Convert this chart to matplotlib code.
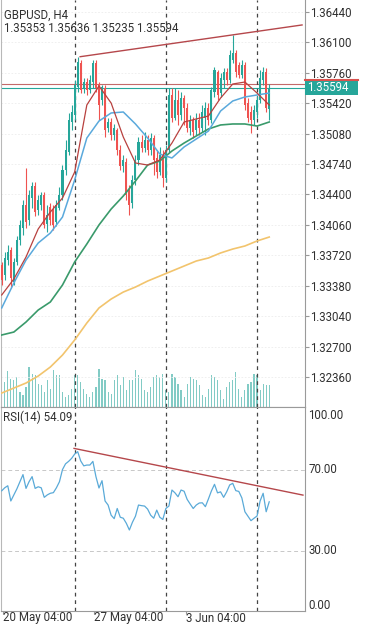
import matplotlib
matplotlib.use('Agg')
import matplotlib.pyplot as plt
import matplotlib.transforms as mtransforms
from matplotlib.patches import Rectangle
import numpy as np

plt.rcParams['font.family'] = ['Roboto', 'DejaVu Sans']

# ---------------- data ----------------
symbol_title = "GBPUSD, H4"
ohlc_title = "1.35353 1.35636 1.35235 1.35594"
rsi_title = "RSI(14) 54.09"

opens = [1.33611, 1.33499, 1.33667, 1.33779, 1.33421, 1.33645, 1.33891, 1.34025, 1.34282, 1.34114,
         1.34360, 1.34495, 1.34226, 1.34282, 1.34394, 1.34070, 1.34260, 1.34226, 1.34092, 1.34248,
         1.34394, 1.34674, 1.34875, 1.35210, 1.35288, 1.35601, 1.35870, 1.35590, 1.35657, 1.35568,
         1.35657, 1.35870, 1.35635, 1.35456, 1.35590, 1.35143, 1.35210, 1.35065, 1.35121, 1.34897,
         1.34718, 1.34763, 1.34450, 1.34305, 1.34562, 1.34785, 1.34986, 1.34919, 1.35009, 1.34897,
         1.35031, 1.34808, 1.34651, 1.34841, 1.34584, 1.34897, 1.35512, 1.35255, 1.35456, 1.35288,
         1.35478, 1.35367, 1.35143, 1.35233, 1.35121, 1.35233, 1.35143, 1.35255, 1.35367, 1.35233,
         1.35545, 1.35769, 1.35534, 1.35680, 1.35769, 1.35680, 1.35903, 1.35981, 1.35847, 1.35736,
         1.35847, 1.35422, 1.35322, 1.35233, 1.35322, 1.35456, 1.35680, 1.35769, 1.35353]
highs = [1.33645, 1.33757, 1.33835, 1.33813, 1.33690, 1.33935, 1.34114, 1.34338, 1.34696, 1.34450,
         1.34539, 1.34539, 1.34394, 1.34427, 1.34427, 1.34282, 1.34305, 1.34282, 1.34338, 1.34483,
         1.34729, 1.35009, 1.35311, 1.35400, 1.35680, 1.35937, 1.35903, 1.35702, 1.35702, 1.35736,
         1.35903, 1.35903, 1.35657, 1.35624, 1.35624, 1.35255, 1.35255, 1.35188, 1.35143, 1.34953,
         1.34841, 1.34808, 1.34506, 1.34617, 1.34841, 1.35042, 1.35065, 1.35098, 1.35065, 1.35087,
         1.35065, 1.34897, 1.34931, 1.34897, 1.34953, 1.35590, 1.35590, 1.35590, 1.35568, 1.35545,
         1.35512, 1.35422, 1.35288, 1.35266, 1.35311, 1.35311, 1.35400, 1.35434, 1.35422, 1.35601,
         1.35825, 1.35791, 1.35758, 1.35814, 1.35814, 1.36015, 1.36183, 1.36015, 1.35881, 1.35903,
         1.35881, 1.35478, 1.35389, 1.35400, 1.35501, 1.35791, 1.35825, 1.35814, 1.35636]
lows = [1.33387, 1.33444, 1.33611, 1.33354, 1.33387, 1.33611, 1.33835, 1.33947, 1.34025, 1.34059,
        1.34248, 1.34159, 1.34170, 1.34226, 1.34025, 1.33980, 1.34059, 1.34003, 1.34047, 1.34226,
        1.34338, 1.34617, 1.34841, 1.35121, 1.35233, 1.35545, 1.35534, 1.35534, 1.35512, 1.35534,
        1.35590, 1.35545, 1.35233, 1.35400, 1.35042, 1.35098, 1.35009, 1.35009, 1.34841, 1.34674,
        1.34651, 1.34338, 1.34170, 1.34248, 1.34506, 1.34729, 1.34875, 1.34875, 1.34841, 1.34841,
        1.34617, 1.34584, 1.34617, 1.34483, 1.34539, 1.34875, 1.35210, 1.35233, 1.35177, 1.35233,
        1.35177, 1.35098, 1.35065, 1.35031, 1.35065, 1.35065, 1.35098, 1.35065, 1.35177, 1.35199,
        1.35490, 1.35456, 1.35490, 1.35590, 1.35624, 1.35646, 1.35870, 1.35713, 1.35702, 1.35702,
        1.35344, 1.35210, 1.35087, 1.35177, 1.35255, 1.35422, 1.35624, 1.35322, 1.35235]
closes = [1.33444, 1.33690, 1.33757, 1.33466, 1.33645, 1.33891, 1.34059, 1.34282, 1.34092, 1.34394,
          1.34495, 1.34204, 1.34338, 1.34394, 1.34059, 1.34170, 1.34114, 1.34059, 1.34282, 1.34394,
          1.34674, 1.34897, 1.35233, 1.35322, 1.35624, 1.35881, 1.35568, 1.35657, 1.35568, 1.35680,
          1.35870, 1.35590, 1.35400, 1.35601, 1.35121, 1.35210, 1.35065, 1.35143, 1.34897, 1.34718,
          1.34785, 1.34394, 1.34282, 1.34562, 1.34785, 1.34986, 1.34919, 1.35009, 1.34897, 1.35031,
          1.34785, 1.34651, 1.34841, 1.34584, 1.34897, 1.35512, 1.35255, 1.35456, 1.35288, 1.35478,
          1.35367, 1.35143, 1.35233, 1.35098, 1.35233, 1.35143, 1.35322, 1.35367, 1.35233, 1.35568,
          1.35791, 1.35512, 1.35702, 1.35769, 1.35680, 1.35959, 1.35981, 1.35769, 1.35736, 1.35847,
          1.35400, 1.35255, 1.35233, 1.35344, 1.35456, 1.35702, 1.35769, 1.35367, 1.35594]
volumes = [70, 75, 108, 85, 80, 90, 45, 35, 60, 120, 100, 95, 70, 65, 45, 80, 55, 110, 95, 95,
           45, 30, 35, 55, 95,
           95, 75, 55, 40, 30, 45, 60, 115, 85, 80, 45, 40, 80, 95, 65, 90, 50, 80, 80, 110,
           95, 85, 50, 45, 60, 90, 95, 90, 100, 50,
           45, 100, 90, 70, 50, 30, 70, 90, 85, 80, 65, 35, 30, 55, 95, 90, 80, 50, 25, 60,
           75, 80, 105, 55, 30, 50, 70, 75, 100, 95,
           50, 70, 65, 65]
rsi = [59.5, 61.0, 62.0, 54.5, 57.5, 60.5, 64.0, 67.5, 60.7, 64.0,
       66.5, 60.7, 61.5, 61.0, 56.3, 57.5, 58.3, 58.6, 61.0, 64.0,
       70.0, 72.8, 74.0, 75.5, 77.6, 78.8, 74.2, 71.8, 72.2, 72.2,
       74.0, 66.5, 60.9, 64.5, 54.5, 52.5, 47.5, 45.8, 50.8, 46.5,
       46.0, 43.5, 40.2, 44.0, 47.0, 52.5, 52.2, 52.0, 50.5, 47.5,
       46.0, 50.0, 46.5, 45.4, 50.8, 52.0, 59.9, 58.5, 56.6, 59.9,
       59.3, 55.3, 53.0, 50.8, 52.5, 53.5, 53.6, 51.7, 55.5, 59.5,
       62.7, 58.5, 59.0, 56.3, 59.0, 62.4, 63.2, 59.6, 59.2, 56.0,
       49.2, 47.0, 44.8, 46.0, 47.1, 54.5, 58.3, 49.2, 54.09]

ma_bars = [0, 4, 8, 12, 16, 20, 24, 28, 32, 36, 40, 44, 48, 52, 56, 60, 64, 68, 72, 76, 80, 84, 88]
ma_fast = [1.33276, 1.33455, 1.33701, 1.34014, 1.34204, 1.34360, 1.34651, 1.35400, 1.35613, 1.35422,
           1.35042, 1.34752, 1.34729, 1.34785, 1.34975, 1.35210, 1.35244, 1.35277, 1.35478, 1.35635,
           1.35657, 1.35534, 1.35400]
ma_mid = [1.33131, 1.33410, 1.33667, 1.33857, 1.33969, 1.34148, 1.34562, 1.35031, 1.35221, 1.35311,
          1.35322, 1.35188, 1.35031, 1.34852, 1.34808, 1.34931, 1.35020, 1.35109, 1.35333, 1.35445,
          1.35490, 1.35512, 1.35534]
ma_slow = [1.32829, 1.32862, 1.32974, 1.33108, 1.33198, 1.33388, 1.33645, 1.33846, 1.34059, 1.34237,
           1.34383, 1.34550, 1.34729, 1.34774, 1.34886, 1.34975, 1.35054, 1.35132, 1.35177, 1.35188,
           1.35188, 1.35165, 1.35210]
ma_200 = [1.32180, 1.32236, 1.32292, 1.32370, 1.32471, 1.32605, 1.32773, 1.32963, 1.33131, 1.33231,
          1.33309, 1.33365, 1.33432, 1.33488, 1.33544, 1.33600, 1.33656, 1.33690, 1.33746, 1.33790,
          1.33824, 1.33880, 1.33924]

price_ticks = [1.36440, 1.36100, 1.35760, 1.35420, 1.35080, 1.34740, 1.34400,
               1.34060, 1.33720, 1.33380, 1.33040, 1.32700, 1.32360]
rsi_levels = [70, 30]
rsi_scale_labels = ["100.00", "70.00", "30.00", "0.00"]
time_label_bars = [0, 30, 60]
time_labels = ["20 May 04:00", "27 May 04:00", "3 Jun 04:00"]
vline_bars = [24, 54, 84]
price_trend_bars = [25.8, 98.8]
price_trend_vals = [1.35940, 1.36295]
rsi_trend_bars = [23.8, 99.1]
rsi_trend_vals = [80.4, 57.4]
bid = 1.35594
ask = 1.35640

# ---------------- layout ----------------
W, H = 365, 625
fig = plt.figure(figsize=(W / 100, H / 100), dpi=100)
fig.patch.set_facecolor('white')


def px_rect(x0, y0, x1, y1):
    return [x0 / W, 1 - y1 / H, (x1 - x0) / W, (y1 - y0) / H]


MAIN = (1, 0, 305, 407)
RSIP = (1, 407, 305, 611)
ax_v = fig.add_axes(px_rect(*MAIN))
ax = fig.add_axes(px_rect(*MAIN))
ax.set_facecolor('none')
ax_r = fig.add_axes(px_rect(*RSIP))

XLIM = (-0.23, 99.77)
YLIM = (1.32024, 1.36574)
for a in (ax_v, ax, ax_r):
    a.set_xlim(*XLIM)

TEAL = '#26a69a'
RED = '#ef5350'
TXT = '#303030'
FS = 8.3

n = len(closes)
idx = np.arange(n)
o = np.array(opens); c = np.array(closes); hi = np.array(highs); lo = np.array(lows)

# volume
ax_v.bar(idx, volumes, width=0.38, color='#82cbc5', linewidth=0)
ax_v.set_ylim(0, 1221)
ax_v.axis('off')

# candles
cols = [TEAL if cc >= oo else RED for oo, cc in zip(o, c)]
ax.vlines(idx, lo, hi, colors=cols, linewidth=0.8, zorder=3)
ax.bar(idx, np.maximum(np.abs(c - o), 0.00004), bottom=np.minimum(o, c), width=0.66,
       color=cols, linewidth=0, zorder=3)

# moving averages
ax.plot(ma_bars, ma_200, color='#f2c46d', lw=1.2, zorder=4)
ax.plot(ma_bars, ma_slow, color='#3a9a6b', lw=1.2, zorder=4)
ax.plot(ma_bars, ma_mid, color='#5aa9dc', lw=1.1, zorder=4)
ax.plot(ma_bars, ma_fast, color='#b8413f', lw=0.9, zorder=4)

# trend line & price lines
ax.plot(price_trend_bars, price_trend_vals, color='#b5474b', lw=1.0, zorder=4)
ax.axhline(ask, color='#c46a6a', lw=0.8, zorder=2)
ax.axhline(bid, color=TEAL, lw=0.8, zorder=2)

for b in vline_bars:
    ax.axvline(b, color='#444444', lw=0.9, ls=(0, (3, 3)), zorder=2)
    ax_r.axvline(b, color='#444444', lw=0.9, ls=(0, (3, 3)), zorder=2)

ax.set_ylim(*YLIM)
ax.yaxis.tick_right()
ax.set_yticks(price_ticks)
ax.set_yticklabels([f"{t:.5f}" for t in price_ticks])
ax.tick_params(axis='y', direction='out', length=3, width=0.8, color='#999999',
               labelsize=FS, labelcolor=TXT, pad=1)
ax.tick_params(axis='x', length=0, labelbottom=False)
ax.grid(axis='y', color='#ececec', lw=0.6, ls=(0, (2, 2)), zorder=0)
ax.spines['top'].set_visible(False)
ax.spines['left'].set_color('#b8b8b8')
ax.spines['right'].set_color('#9a9a9a')
ax.spines['bottom'].set_color('#9a9a9a')

# current price label
trans = mtransforms.blended_transform_factory(fig.transFigure, ax.transData)
ppx = (YLIM[1] - YLIM[0]) / 407
ax.add_patch(Rectangle((305 / W, bid - 7 * ppx), 53 / W, 14 * ppx, transform=trans,
                       facecolor=TEAL, edgecolor='none', clip_on=False, zorder=6))
ax.plot([305 / W, 358 / W], [bid + 7.5 * ppx] * 2, transform=trans, color='#d9534f',
        lw=1.5, clip_on=False, zorder=6)
ax.text(307 / W, bid, f"{bid:.5f}", transform=trans, color='white', fontsize=FS,
        va='center', ha='left', clip_on=False, zorder=7)

# titles
fig.text(4 / W, 1 - 18.3 / H, symbol_title, fontsize=FS, color=TXT, va='baseline')
fig.text(4 / W, 1 - 31.7 / H, ohlc_title, fontsize=FS, color=TXT, va='baseline')

# RSI panel
ax_r.plot(idx, rsi, color='#5aaad8', lw=0.9, zorder=3)
ax_r.plot(rsi_trend_bars, rsi_trend_vals, color='#b5474b', lw=1.0, zorder=3)
for lv in rsi_levels:
    ax_r.axhline(lv, color='#c8c8c8', lw=0.7, ls=(0, (4, 3)), zorder=1)
ax_r.set_ylim(0.3, 100.8)
ax_r.set_yticks([])
ytr = ax_r.get_yaxis_transform()
ax_r.text(1.01, 100, rsi_scale_labels[0], transform=ytr, fontsize=FS, color=TXT, va='top', ha='left')
ax_r.text(1.01, 70, rsi_scale_labels[1], transform=ytr, fontsize=FS, color=TXT, va='center', ha='left')
ax_r.text(1.01, 30, rsi_scale_labels[2], transform=ytr, fontsize=FS, color=TXT, va='center', ha='left')
ax_r.text(1.01, 0, rsi_scale_labels[3], transform=ytr, fontsize=FS, color=TXT, va='bottom', ha='left')
ax_r.set_xticks([b + 0.5 for b in time_label_bars])
ax_r.set_xticklabels([])
ax_r.tick_params(axis='x', direction='out', length=2, width=0.8, color='#999999')
xtr = mtransforms.blended_transform_factory(ax_r.transData, fig.transFigure)
for b, lab in zip(time_label_bars, time_labels):
    ax_r.text(b + 0.5, 1 - 624.5 / H, lab, transform=xtr, fontsize=FS, color=TXT,
              ha='left', va='bottom', clip_on=False)
for s in ('top', 'right', 'bottom'):
    ax_r.spines[s].set_color('#9a9a9a')
ax_r.spines['left'].set_color('#b8b8b8')
fig.text(3 / W, 1 - 421.5 / H, rsi_title, fontsize=FS, color=TXT, va='baseline')

fig.savefig('out.png', dpi=100, facecolor='white')
